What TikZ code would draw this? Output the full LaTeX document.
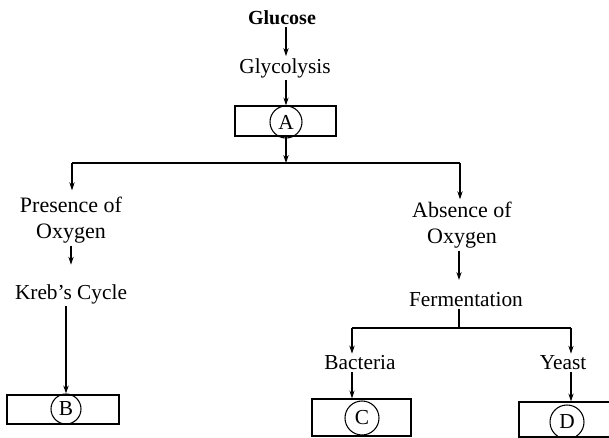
\documentclass[tikz,border=0pt]{standalone}
\usepackage{fontspec}
\setmainfont{Liberation Serif}
\usetikzlibrary{arrows.meta}
\begin{document}
\begin{tikzpicture}[x=0.75pt,y=-0.75pt,
  lbl/.style={font=\fontsize{16}{20}\selectfont, inner sep=1.5pt, align=center},
  boxst/.style={draw, line width=0.9pt, inner sep=0pt},
  circ/.style={draw, circle, line width=0.8pt, inner sep=0pt, font=\fontsize{16}{16}\selectfont},
  arr/.style={-{Stealth[length=6pt,width=4pt]}, line width=0.8pt},
  ln/.style={line width=0.8pt}]
\useasboundingbox (0,0) rectangle (609,438);
% text nodes
\node[lbl, font=\bfseries\fontsize{15}{18}\selectfont] (glucose) at (282,18) {Glucose};
\node[lbl] (glyco) at (285,68) {Glycolysis};
\node[lbl, font=\fontsize{16.5}{20}\selectfont] (pres) at (71,220) {Presence of\\Oxygen};
\node[lbl] (krebs) at (71,294) {Kreb's Cycle};
\node[lbl, font=\fontsize{16.5}{20}\selectfont] (abs) at (462,225) {Absence of\\Oxygen};
\node[lbl] (ferm) at (466,300) {Fermentation};
\node[lbl] (bact) at (360,363) {Bacteria};
\node[lbl] (yeast) at (563,363) {Yeast};
% boxes
\node[boxst, minimum width=75.75pt, minimum height=22.5pt] (boxA) at (285.5,121) {};
\node[circ, minimum size=24pt] (cA) at (286,122) {A};
\node[boxst, minimum width=84pt, minimum height=21.75pt] (boxB) at (63,409.5) {};
\node[circ, minimum size=22.5pt] (cB) at (66,409) {B};
\node[boxst, minimum width=74.25pt, minimum height=27.75pt] (boxC) at (361.5,417.5) {};
\node[circ, minimum size=25.5pt] (cC) at (362,418) {C};
\node[boxst, minimum width=69.75pt, minimum height=26.25pt] (boxD) at (565.5,419.5) {};
\node[circ, minimum size=25.5pt] (cD) at (567,422) {D};
% junctions
\coordinate (jL) at (72,163);
\coordinate (jR) at (460,163);
\coordinate (jF) at (459,328);
\coordinate (jB) at (352,328);
\coordinate (jY) at (571,328);
% connectors
\draw[arr] (glucose.south -| cA) -- (glyco.north -| cA);
\draw[arr] (glyco.south -| cA) -- (boxA.north -| cA);
\draw[arr] (boxA.south -| cA) -- (cA |- jL);
\draw[ln] (jL) -- (jR);
\draw[arr, shorten >=3pt] (jL) -- (pres.north -| jL);
\draw[arr] (jR) -- (abs.north -| jR);
\draw[arr, shorten >=13pt] (pres.south) -- (krebs.north);
\draw[arr] (krebs.south -| cB) -- (cB.north);
\draw[arr, shorten >=8pt] (abs.south -| jF) -- (ferm.north -| jF);
\draw[ln] (ferm.south -| jF) -- (jF);
\draw[ln] (jB) -- (jY);
\draw[arr] (jB) -- (bact.north -| jB);
\draw[arr] (jY) -- (yeast.north -| jY);
\draw[arr] (bact.south -| jB) -- (boxC.north -| jB);
\draw[arr] (yeast.south -| jY) -- (boxD.north -| jY);
\end{tikzpicture}
\end{document}
